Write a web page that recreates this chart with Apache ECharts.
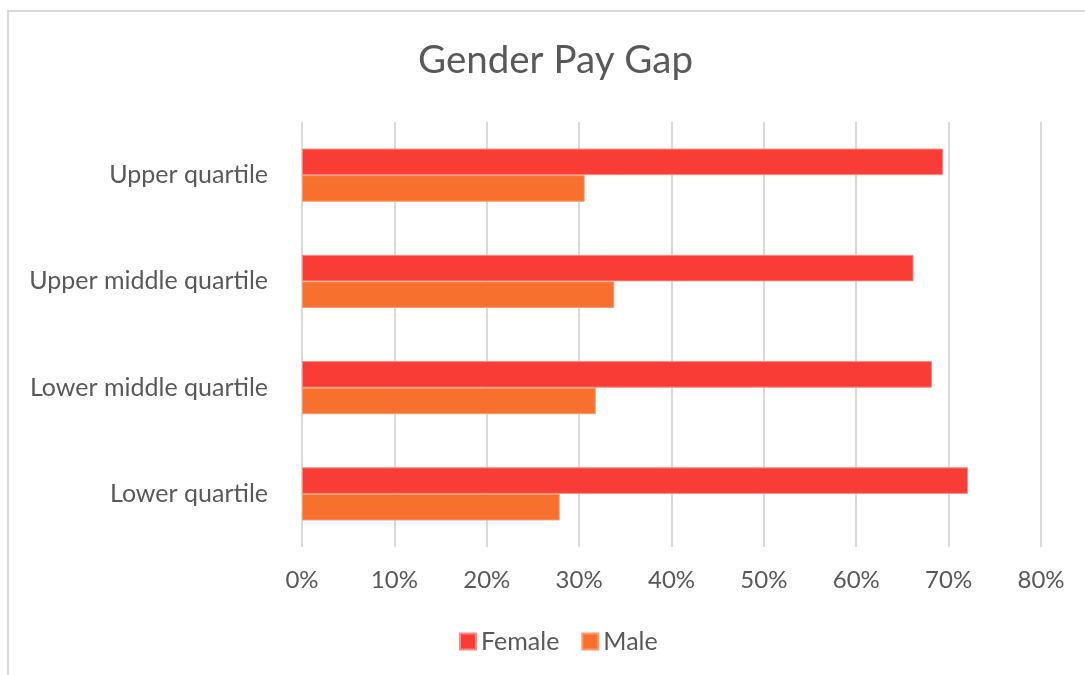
<!DOCTYPE html>
<html>
<head>
<meta charset="utf-8">
<title>Gender Pay Gap</title>
<script src="https://cdn.jsdelivr.net/npm/echarts@6/dist/echarts.min.js"></script>
<style>
    html, body { margin: 0; padding: 0; background: #fff; }
    #chart { width: 1085px; height: 675px; }
</style>
</head>
<body>
<div id="chart"></div>
<script>
    // categories bottom -> top (echarts draws category y axis upward)
    const quartiles = ['Lower quartile', 'Lower middle quartile', 'Upper middle quartile', 'Upper quartile'];
    const femaleShare = [0.721, 0.682, 0.662, 0.694];
    const maleShare = [0.279, 0.318, 0.338, 0.306];
    const seriesNames = ['Female', 'Male'];

    const textColor = '#595959';
    const font = 'Lato, "Open Sans", sans-serif';

    let chart = echarts.init(document.getElementById('chart'));
    let option = {
        animation: false,
        color: ['#f93c36', '#f8702e'],
        title: {
            text: 'Gender Pay Gap',
            left: 413,
            top: 36,
            textStyle: { fontFamily: font, fontSize: 38.5, fontWeight: 'normal', color: textColor }
        },
        legend: {
            data: seriesNames,
            top: 624,
            left: 454,
            itemWidth: 16,
            itemHeight: 16,
            itemGap: 22,
            itemTextGap: 7,
            icon: 'rect',
            textStyle: { fontFamily: font, fontSize: 25, color: textColor }
        },
        graphic: [{
            type: 'rect',
            silent: true,
            shape: { x: 8, y: 11, width: 1200, height: 1000 },
            style: { fill: 'none', stroke: '#d9d9d9', lineWidth: 2 }
        }],
        grid: { left: 302, right: 44, top: 122, bottom: 128 },
        xAxis: {
            type: 'value',
            min: 0,
            max: 0.8,
            interval: 0.1,
            axisLine: { show: false },
            axisTick: { show: false },
            splitLine: { lineStyle: { color: '#d9d9d9', width: 2 } },
            axisLabel: {
                margin: 21,
                fontFamily: font,
                fontSize: 24,
                color: textColor,
                formatter: v => Math.round(v * 100) + '%'
            }
        },
        yAxis: {
            type: 'category',
            data: quartiles,
            axisLine: { show: false },
            axisTick: { show: false },
            axisLabel: { margin: 34, fontFamily: font, fontSize: 25, color: textColor }
        },
        series: [{
            name: seriesNames[0],
            type: 'bar',
            data: femaleShare,
            barCategoryGap: '50%',
            barGap: '0%',
            itemStyle: { borderColor: '#fb8a84', borderWidth: 1 }
        }, {
            name: seriesNames[1],
            type: 'bar',
            data: maleShare,
            barCategoryGap: '50%',
            barGap: '0%',
            itemStyle: { borderColor: '#fb9a6c', borderWidth: 1 }
        }]
    };
    chart.setOption(option);
</script>
</body>
</html>
